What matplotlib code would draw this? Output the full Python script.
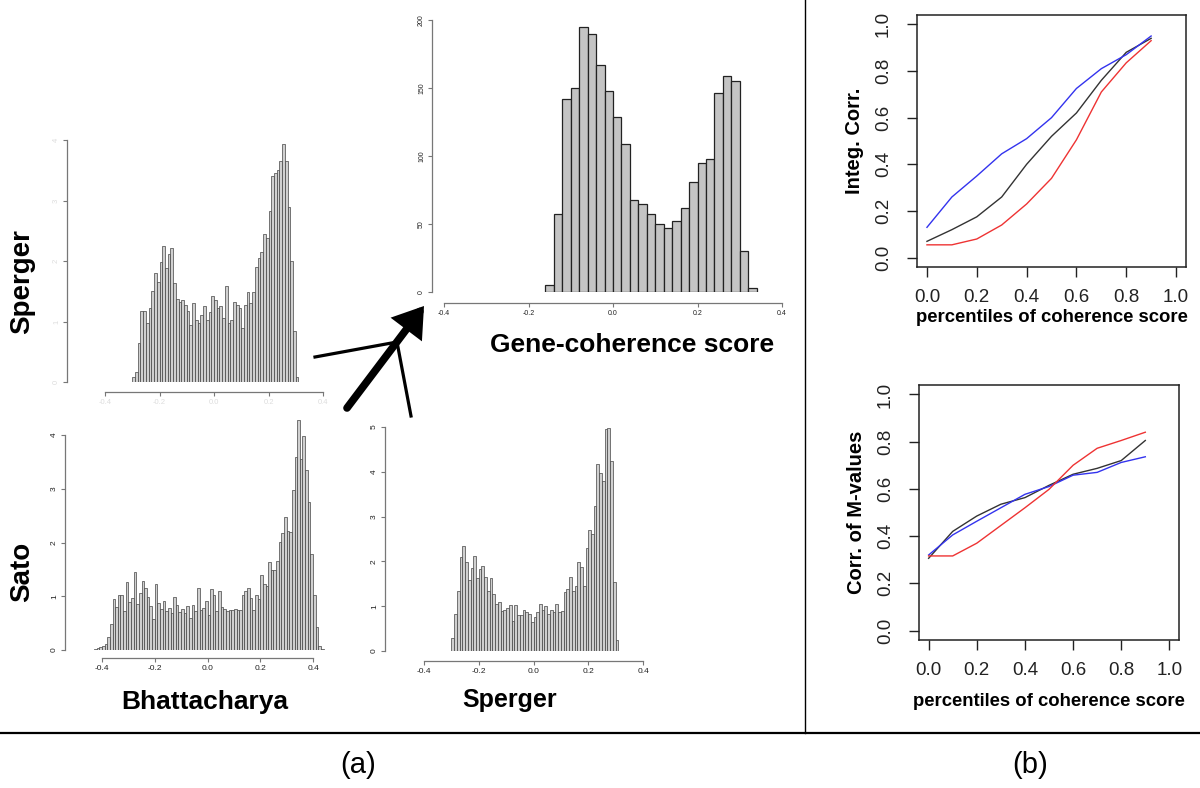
import numpy as np
import matplotlib.pyplot as plt
from matplotlib.lines import Line2D
from matplotlib.patches import FancyArrowPatch

plt.rcParams['font.family'] = ['Liberation Sans', 'DejaVu Sans']

W, H = 1200, 788

# -------------------------------
# data
# -------------------------------
# histogram densities, bins of 0.01
sperger_top_start = -0.30
sperger_top = [0.08, 0.17, 0.65, 1.18, 1.18, 0.98, 1.22, 1.5, 1.8, 1.65, 1.98, 2.25,
               1.88, 2.12, 2.22, 1.64, 1.38, 1.32, 1.35, 1.28, 1.18, 0.95, 1.3, 1.02,
               0.98, 1.1, 1.25, 1.02, 1.15, 1.42, 1.35, 1.22, 1.25, 1.06, 1.58, 0.98,
               1.03, 1.33, 1.28, 1.22, 0.9, 1.27, 1.48, 1.3, 1.48, 1.9, 2.05, 2.15, 2.45,
               2.38, 2.82, 3.4, 3.45, 3.5, 3.65, 3.93, 3.65, 2.9, 2.0, 0.84, 0.08]

sato_start = -0.43
sato = [0.02, 0.03, 0.06, 0.08, 0.12, 0.25, 0.48, 0.94, 0.80, 1.03, 1.03, 0.72, 1.27,
        0.90, 0.97, 1.45, 0.86, 1.06, 1.28, 1.15, 0.98, 0.82, 0.57, 1.22, 0.88, 0.76,
        0.91, 0.72, 0.79, 0.69, 0.98, 0.84, 0.70, 0.77, 0.69, 0.82, 0.60, 0.83, 0.73,
        1.16, 0.74, 0.79, 0.91, 0.66, 1.13, 1.03, 0.72, 1.09, 0.80, 0.77, 0.72, 0.74,
        0.74, 0.76, 0.75, 0.75, 1.03, 1.10, 1.16, 0.96, 0.75, 1.03, 0.95, 1.40, 1.23,
        1.20, 1.63, 1.48, 1.48, 1.65, 2.01, 2.18, 2.48, 2.22, 2.19, 2.98, 3.60, 4.28,
        3.55, 3.98, 3.35, 2.75, 1.78, 1.02, 0.43, 0.07, 0.02]

sperger_bot_start = -0.30
sperger_bot = [0.30, 0.83, 1.33, 2.10, 2.35, 1.98, 1.58, 1.85, 2.13, 1.62, 1.83, 1.89,
               1.66, 1.35, 1.62, 1.28, 1.05, 1.10, 0.90, 0.92, 0.95, 1.02, 0.68, 1.02,
               0.80, 0.80, 0.91, 0.88, 0.83, 0.65, 0.77, 0.88, 1.05, 0.92, 1.00, 0.82,
               0.92, 0.87, 1.05, 0.87, 0.90, 1.32, 1.39, 1.66, 1.33, 1.44, 1.99, 1.88,
               1.44, 2.30, 2.71, 2.62, 3.24, 4.18, 3.98, 3.80, 4.96, 4.98, 4.25, 1.55, 0.25]

# gene-coherence score counts, bins of 0.02
gene_start = -0.16
gene = [5, 57, 142, 150, 195, 190, 167, 148, 129, 109, 68, 65, 57, 50, 47, 52, 62,
        81, 95, 98, 146, 159, 155, 30, 3]

# panel (b) curves
pct = [0.0, 0.1, 0.2, 0.3, 0.4, 0.5, 0.6, 0.7, 0.8, 0.9]
integ_black = [0.07, 0.12, 0.175, 0.26, 0.40, 0.52, 0.62, 0.76, 0.88, 0.94]
integ_blue = [0.13, 0.26, 0.35, 0.445, 0.51, 0.60, 0.725, 0.81, 0.87, 0.95]
integ_red = [0.055, 0.055, 0.08, 0.14, 0.23, 0.34, 0.505, 0.71, 0.835, 0.93]

mval_black = [0.306, 0.42, 0.485, 0.535, 0.563, 0.615, 0.662, 0.687, 0.72, 0.805]
mval_blue = [0.32, 0.405, 0.463, 0.52, 0.577, 0.61, 0.658, 0.67, 0.712, 0.736]
mval_red = [0.316, 0.316, 0.37, 0.445, 0.52, 0.598, 0.70, 0.772, 0.805, 0.84]

hist_ticks = [-0.4, -0.2, 0.0, 0.2, 0.4]
hist_ticklabels = ['-0.4', '-0.2', '0.0', '0.2', '0.4']
unit_ticks = [0.0, 0.2, 0.4, 0.6, 0.8, 1.0]
unit_ticklabels = ['0.0', '0.2', '0.4', '0.6', '0.8', '1.0']


def fx(x):
    return x / W


def fy(y):
    return 1 - y / H


fig = plt.figure(figsize=(12, 7.88), dpi=100)


# -------------------------------
# R style histogram panel, placed in pixels
# -------------------------------
def hist_panel(heights, start, width, yspine_x, ybase, y_per_unit, x_m04, x_p04,
               xaxis_y, ytop, yticks, face, edge, edge_lw, tick_fs, label_color='#222222'):
    sx = (x_p04 - x_m04) / 0.8
    xl = -0.4 + (yspine_x - x_m04) / sx
    xr = 0.46
    ax = fig.add_axes([fx(yspine_x), fy(ybase), (xr - xl) * sx / W, ytop * y_per_unit / H])
    ax.set_xlim(xl, xr)
    ax.set_ylim(0, ytop)
    edges = start + width * np.arange(len(heights) + 1)
    ax.bar(edges[:-1], heights, width=width, align='edge', color=face,
           edgecolor=edge, linewidth=edge_lw)
    for s in ['top', 'right']:
        ax.spines[s].set_visible(False)
    ax.spines['left'].set_bounds(0, yticks[-1])
    ax.spines['bottom'].set_position(('outward', (xaxis_y - ybase) * 72 / 100))
    ax.spines['bottom'].set_bounds(-0.4, 0.4)
    for s in ['left', 'bottom']:
        ax.spines[s].set_color('#777777')
        ax.spines[s].set_linewidth(0.9)
    ax.set_xticks(hist_ticks)
    ax.set_xticklabels(hist_ticklabels)
    ax.set_yticks(yticks)
    ax.set_yticklabels([str(t) for t in yticks], rotation=90, va='center')
    ax.tick_params(length=3, width=0.8, color='#777777', labelsize=tick_fs,
                   labelcolor=label_color, pad=2)
    ax.patch.set_alpha(0)
    return ax


ax1 = hist_panel(sperger_top, sperger_top_start, 0.01, 67, 382, 60.5, 105, 323, 392,
                 4.05, [0, 1, 2, 3, 4], '#d0d0d0', '#444444', 0.5, 5.5, label_color='#dddddd')
ax2 = hist_panel(sato, sato_start, 0.01, 65, 650, 53.75, 102, 313, 658,
                 4.35, [0, 1, 2, 3, 4], '#d0d0d0', '#444444', 0.5, 6)
ax3 = hist_panel(sperger_bot, sperger_bot_start, 0.01, 385, 651, 44.8, 424, 643, 661,
                 5.05, [0, 1, 2, 3, 4, 5], '#d0d0d0', '#444444', 0.5, 6)
ax4 = hist_panel(gene, gene_start, 0.02, 432, 292, 1.36, 444, 782, 303,
                 200, [0, 50, 100, 150, 200], '#c4c4c4', '#222222', 0.9, 5)

# big panel labels
big = dict(fontweight='bold', ha='center', va='center')
fig.text(fx(22), fy(282), 'Sperger', rotation=90, fontsize=20, **big)
fig.text(fx(22), fy(572), 'Sato', rotation=90, fontsize=20, **big)
fig.text(fx(205), fy(702), 'Bhattacharya', fontsize=19, **big)
fig.text(fx(510), fy(700), 'Sperger', fontsize=18, **big)
fig.text(fx(632), fy(345), 'Gene-coherence score', fontsize=19, **big)

# arrows joining the histograms
fig.add_artist(Line2D([fx(315), fx(397)], [fy(357), fy(342)], color='black', lw=2.3))
fig.add_artist(Line2D([fx(397), fx(411)], [fy(342), fy(416)], color='black', lw=2.3))
fig.add_artist(FancyArrowPatch((fx(347), fy(408)), (fx(424), fy(306)),
                               transform=fig.transFigure,
                               arrowstyle='-|>,head_length=0.45,head_width=0.3',
                               mutation_scale=30, lw=5.5, color='black',
                               shrinkA=0, shrinkB=0, joinstyle='miter'))


# -------------------------------
# panel (b) line plots
# -------------------------------
def curve_panel(left, top, right, bottom, black, blue, red, ylabel, xlabelpad):
    ax = fig.add_axes([fx(left), fy(bottom), (right - left) / W, (bottom - top) / H])
    ax.plot(pct, black, color='#333333', lw=1.0)
    ax.plot(pct, blue, color='#3333ee', lw=1.0)
    ax.plot(pct, red, color='#ee3333', lw=1.0)
    ax.set_xlim(-0.04, 1.04)
    ax.set_ylim(-0.04, 1.04)
    ax.set_xticks(unit_ticks)
    ax.set_xticklabels(unit_ticklabels)
    ax.set_yticks(unit_ticks)
    ax.set_yticklabels(unit_ticklabels, rotation=90, va='center')
    ax.tick_params(axis='x', length=7, width=1, labelsize=13.5, pad=9, colors='#222222')
    ax.tick_params(axis='y', length=7, width=1, labelsize=13.5, pad=11, colors='#222222')
    for s in ax.spines.values():
        s.set_linewidth(1.1)
        s.set_color('#222222')
    ax.set_xlabel('percentiles of coherence score', fontsize=13.3, fontweight='bold',
                  labelpad=xlabelpad)
    ax.set_ylabel(ylabel, fontsize=14.5, fontweight='bold', labelpad=8)
    return ax


curve_panel(917, 15, 1186, 267, integ_black, integ_blue, integ_red, 'Integ. Corr.', 2)
curve_panel(919, 385, 1179, 640, mval_black, mval_blue, mval_red, 'Corr. of M-values', 10)

# frame lines and sub-figure letters
fig.add_artist(Line2D([fx(805), fx(805)], [fy(0), fy(733)], color='black', lw=1.0))
fig.add_artist(Line2D([0, 1], [fy(733), fy(733)], color='black', lw=1.6))
fig.text(fx(358), fy(765), '(a)', fontsize=21, ha='center', va='center')
fig.text(fx(1030), fy(765), '(b)', fontsize=21, ha='center', va='center')

fig.savefig('out.png', dpi=100)
